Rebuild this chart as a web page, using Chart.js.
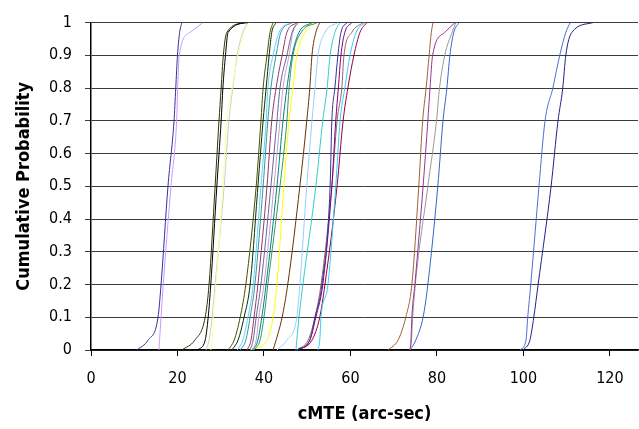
<!DOCTYPE html>
<html>
<head>
<meta charset="utf-8">
<title>cMTE cumulative probability</title>
<script src="https://cdn.jsdelivr.net/npm/chart.js@4.4.1/dist/chart.umd.min.js"></script>
<style>
  html, body { margin: 0; padding: 0; background: #fff; }
  #wrap { width: 639px; height: 429px; }
</style>
</head>
<body>
<div id="wrap"><canvas id="cdfChart"></canvas></div>
<script>
const probLevels = [0, 0.03, 0.1, 0.2, 0.5, 0.7, 0.8, 0.9, 0.97, 1];

// cMTE (arc-sec) of each run at those levels
const run01 = [10.6, 13.2, 15.5, 16.2, 17.8, 19.2, 19.6, 20.0, 20.5, 21.0];
const run02 = [15.7, 15.85, 16.2, 16.7, 18.5, 19.8, 20.05, 20.4, 22.9, 25.9];
const run03 = [24.7, 26.4, 27.1, 27.7, 29.1, 30.1, 30.5, 31.1, 31.7, 36.3];
const run04 = [21.0, 24.0, 26.4, 27.3, 28.7, 29.6, 30.1, 30.6, 31.4, 35.6];
const run05 = [27.7, 28.0, 28.3, 28.9, 30.5, 31.4, 32.6, 34.0, 35.4, 36.8];
const run06 = [26.6, 27.3, 28.0, 28.7, 30.8, 31.9, 32.8, 33.8, 35.1, 36.3];
const run07 = [31.7, 33.1, 34.5, 35.8, 38.2, 39.3, 39.8, 40.7, 41.4, 42.1];
const run08 = [32.6, 34.0, 35.4, 36.8, 38.6, 39.8, 40.5, 41.2, 41.8, 42.8];
const run09 = [33.8, 35.1, 36.3, 37.5, 39.3, 40.5, 40.9, 42.1, 43.5, 46.0];
const run10 = [34.5, 35.8, 36.8, 37.9, 39.8, 40.9, 41.6, 42.8, 43.9, 46.5];
const run11 = [36.1, 37.0, 37.7, 38.6, 40.7, 41.8, 42.8, 44.2, 45.3, 47.6];
const run12 = [36.8, 37.5, 38.2, 39.3, 41.6, 43.0, 43.7, 45.3, 46.5, 47.7];
const run13 = [37.2, 38.2, 38.8, 40.0, 42.3, 43.7, 44.4, 45.8, 46.7, 48.1];
const run14 = [37.5, 38.6, 39.5, 40.5, 43.0, 44.4, 45.3, 46.5, 48.1, 51.1];
const run15 = [37.7, 39.1, 40.0, 40.9, 43.7, 45.3, 45.8, 46.7, 48.6, 52.3];
const run16 = [36.8, 40.7, 42.1, 43.0, 44.6, 45.8, 46.7, 47.6, 49.5, 51.1];
const run17 = [42.1, 42.8, 44.2, 45.5, 48.3, 49.9, 50.6, 51.1, 52.0, 52.9];
const run18 = [43.0, 45.3, 47.6, 48.3, 49.9, 51.1, 51.8, 52.5, 54.1, 57.1];
const run19 = [47.4, 47.6, 48.1, 49.0, 52.0, 53.6, 54.6, 55.3, 56.4, 57.6];
const run20 = [47.6, 50.6, 51.8, 53.4, 55.3, 55.7, 56.4, 57.1, 57.8, 59.2];
const run21 = [47.6, 50.6, 52.0, 53.6, 55.7, 56.6, 57.2, 57.8, 58.7, 60.3];
const run22 = [47.6, 50.2, 51.8, 53.2, 55.7, 56.9, 58.0, 58.5, 60.3, 62.9];
const run23 = [52.5, 52.9, 53.2, 54.8, 56.6, 57.6, 58.7, 59.9, 61.3, 63.4];
const run24 = [47.6, 51.1, 52.9, 54.1, 56.9, 58.3, 59.4, 60.8, 62.2, 63.8];
const run25 = [68.7, 71.0, 72.8, 74.2, 75.8, 76.7, 77.5, 78.2, 78.7, 79.1];
const run26 = [73.8, 74.0, 74.2, 74.9, 76.8, 77.9, 78.4, 79.0, 81.8, 84.2];
const run27 = [73.8, 74.1, 74.4, 75.0, 77.9, 79.9, 80.6, 81.8, 83.5, 84.4];
const run28 = [73.8, 75.1, 76.8, 77.9, 80.2, 81.4, 82.3, 83.0, 83.9, 85.1];
const run29 = [99.2, 100.6, 101.0, 101.7, 103.6, 105.0, 106.8, 108.4, 109.8, 110.8];
const run30 = [99.9, 101.5, 102.4, 103.4, 106.4, 108.0, 109.1, 109.8, 111.2, 116.1];

const runs = [run01, run02, run03, run04, run05, run06, run07, run08, run09, run10,
              run11, run12, run13, run14, run15, run16, run17, run18, run19, run20,
              run21, run22, run23, run24, run25, run26, run27, run28, run29, run30];

const runColors = ['#333399', '#cc99ff', '#000000', '#333300', '#ffff99', '#cccccc',
                   '#4d4d00', '#003300', '#66ccff', '#339999', '#993366', '#666699',
                   '#cc99cc', '#008080', '#339966', '#ffff00', '#663300', '#99ccff',
                   '#33cccc', '#333399', '#800080', '#996666', '#33ccff', '#990033',
                   '#996633', '#993399', '#999999', '#3366cc', '#4f6fd0', '#222288'];

const xTickValues = [0, 20, 40, 60, 80, 100, 120];
const yTickValues = [0, 0.1, 0.2, 0.3, 0.4, 0.5, 0.6, 0.7, 0.8, 0.9, 1];
const yTickLabels = ['0', '0.1', '0.2', '0.3', '0.4', '0.5', '0.6', '0.7', '0.8', '0.9', '1'];

const FONT = "'Liberation Sans Narrow', 'DejaVu Sans Condensed', 'Arial Narrow', sans-serif";
const tickFont = { family: FONT, size: 16 };
const titleFont = { family: FONT, size: 18, weight: 'bold' };

const datasets = runs.map((xs, i) => ({
  data: xs.map((x, k) => ({ x: x, y: probLevels[k] })),
  borderColor: runColors[i],
  borderWidth: 1,
  pointRadius: 0,
  fill: false,
  cubicInterpolationMode: 'monotone'
}));

new Chart(document.getElementById('cdfChart'), {
  type: 'line',
  data: { datasets },
  options: {
    responsive: true,
    maintainAspectRatio: false,
    animation: false,
    layout: { padding: { top: 11, right: 1, left: 0, bottom: 0 } },
    plugins: { legend: { display: false }, tooltip: { enabled: false } },
    scales: {
      x: {
        type: 'linear',
        min: 0,
        max: 126.5,
        afterBuildTicks: s => { s.ticks = xTickValues.map(v => ({ value: v })); },
        afterFit: s => { s.height = 79; },
        grid: { drawOnChartArea: false, drawTicks: true, tickLength: 6, color: '#000' },
        border: { color: '#000', width: 1.5 },
        ticks: { color: '#000', font: tickFont, padding: 13, maxRotation: 0 },
        title: { display: true, text: 'cMTE (arc-sec)', color: '#000', font: titleFont,
                 padding: { top: 0, bottom: 4 } }
      },
      y: {
        min: 0,
        max: 1,
        afterBuildTicks: s => { s.ticks = yTickValues.map(v => ({ value: v })); },
        afterFit: s => { s.width = 91; },
        grid: { color: '#3c3c3c', lineWidth: 1, tickLength: 6 },
        border: { color: '#000', width: 1.5 },
        ticks: { color: '#000', font: tickFont, padding: 13,
                 callback: (v, i) => yTickLabels[i] },
        title: { display: true, text: 'Cumulative Probability', color: '#000', font: titleFont,
                 padding: { top: 14, bottom: 0 } }
      }
    }
  }
});
</script>
</body>
</html>
